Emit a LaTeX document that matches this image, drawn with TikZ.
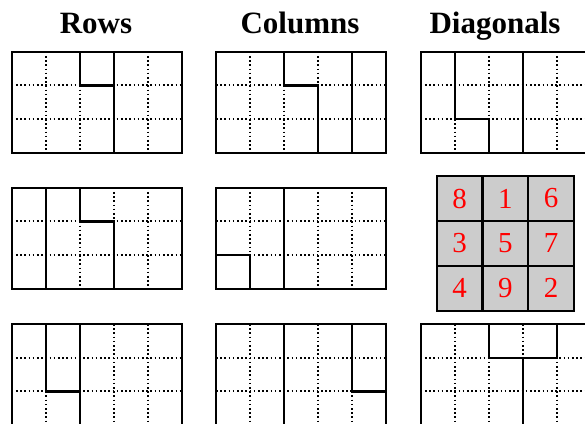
\documentclass[tikz,border=0pt]{standalone}
\usepackage{fontspec}
\setmainfont{Liberation Serif}
\usepackage{tikz}

\begin{document}
\begin{tikzpicture}[x=1pt, y=-1pt,
  title/.style={font=\fontsize{31}{31}\selectfont\bfseries, anchor=base, inner sep=0pt},
  cell/.style={draw, line width=2.2pt, fill=black!20, text=red, inner sep=0pt,
    minimum width=45.8pt, minimum height=44.9pt, font=\fontsize{29}{29}\selectfont},
  dots/.style={line width=2pt, dash pattern=on 1.6pt off 2.6pt},
  wall/.style={line width=2.3pt, line cap=rect}
]
\useasboundingbox (0,0) rectangle (585,423);
\clip (0,0) rectangle (585,423);

% headings
\node[title] (rows) at (96,33.3) {Rows};
\node[title] (cols) at (300,33.3) {Columns};
\node[title] (diags) at (495,33.3) {Diagonals};

% the eight 3x5 boards
\foreach \gx/\gy/\walls in {
  11.7/51.7/{(2,0)--(2,1)--(3,1) (3,0)--(3,3)},
  216/51.7/{(2,0)--(2,1)--(3,1)--(3,3) (4,0)--(4,3)},
  420.7/51.7/{(1,0)--(1,2)--(2,2)--(2,3) (3,0)--(3,3)},
  11.7/187.7/{(1,0)--(1,3) (2,0)--(2,1)--(3,1)--(3,3)},
  216/187.7/{(0,2)--(1,2)--(1,3) (2,0)--(2,3)},
  11.7/324/{(1,0)--(1,2)--(2,2) (2,0)--(2,3)},
  216/324/{(2,0)--(2,3) (4,0)--(4,2)--(5,2)},
  420.7/324/{(2,0)--(2,1)--(4,1)--(4,0) (3,1)--(3,3)}}
{
  \begin{scope}[shift={(\gx,\gy)}, x=34pt, y=-33.7pt]
    \foreach \i in {1,...,4}
      \draw[dots] (\i,0) -- (\i,3);
    \foreach \j in {1,2}
      \draw[dots] (0,\j) -- (5,\j);
    \draw[wall] (0,0) rectangle (5,3);
    \draw[wall] \walls;
  \end{scope}
}

% magic square
\foreach \r/\vals in {0/{8,1,6},1/{3,5,7},2/{4,9,2}}
  \foreach \v [count=\c from 0] in \vals
    \node[cell] (sq-\r-\c) at ({459.6+45.8*\c},{198.5+44.9*\r}) {\v};
\end{tikzpicture}
\end{document}
